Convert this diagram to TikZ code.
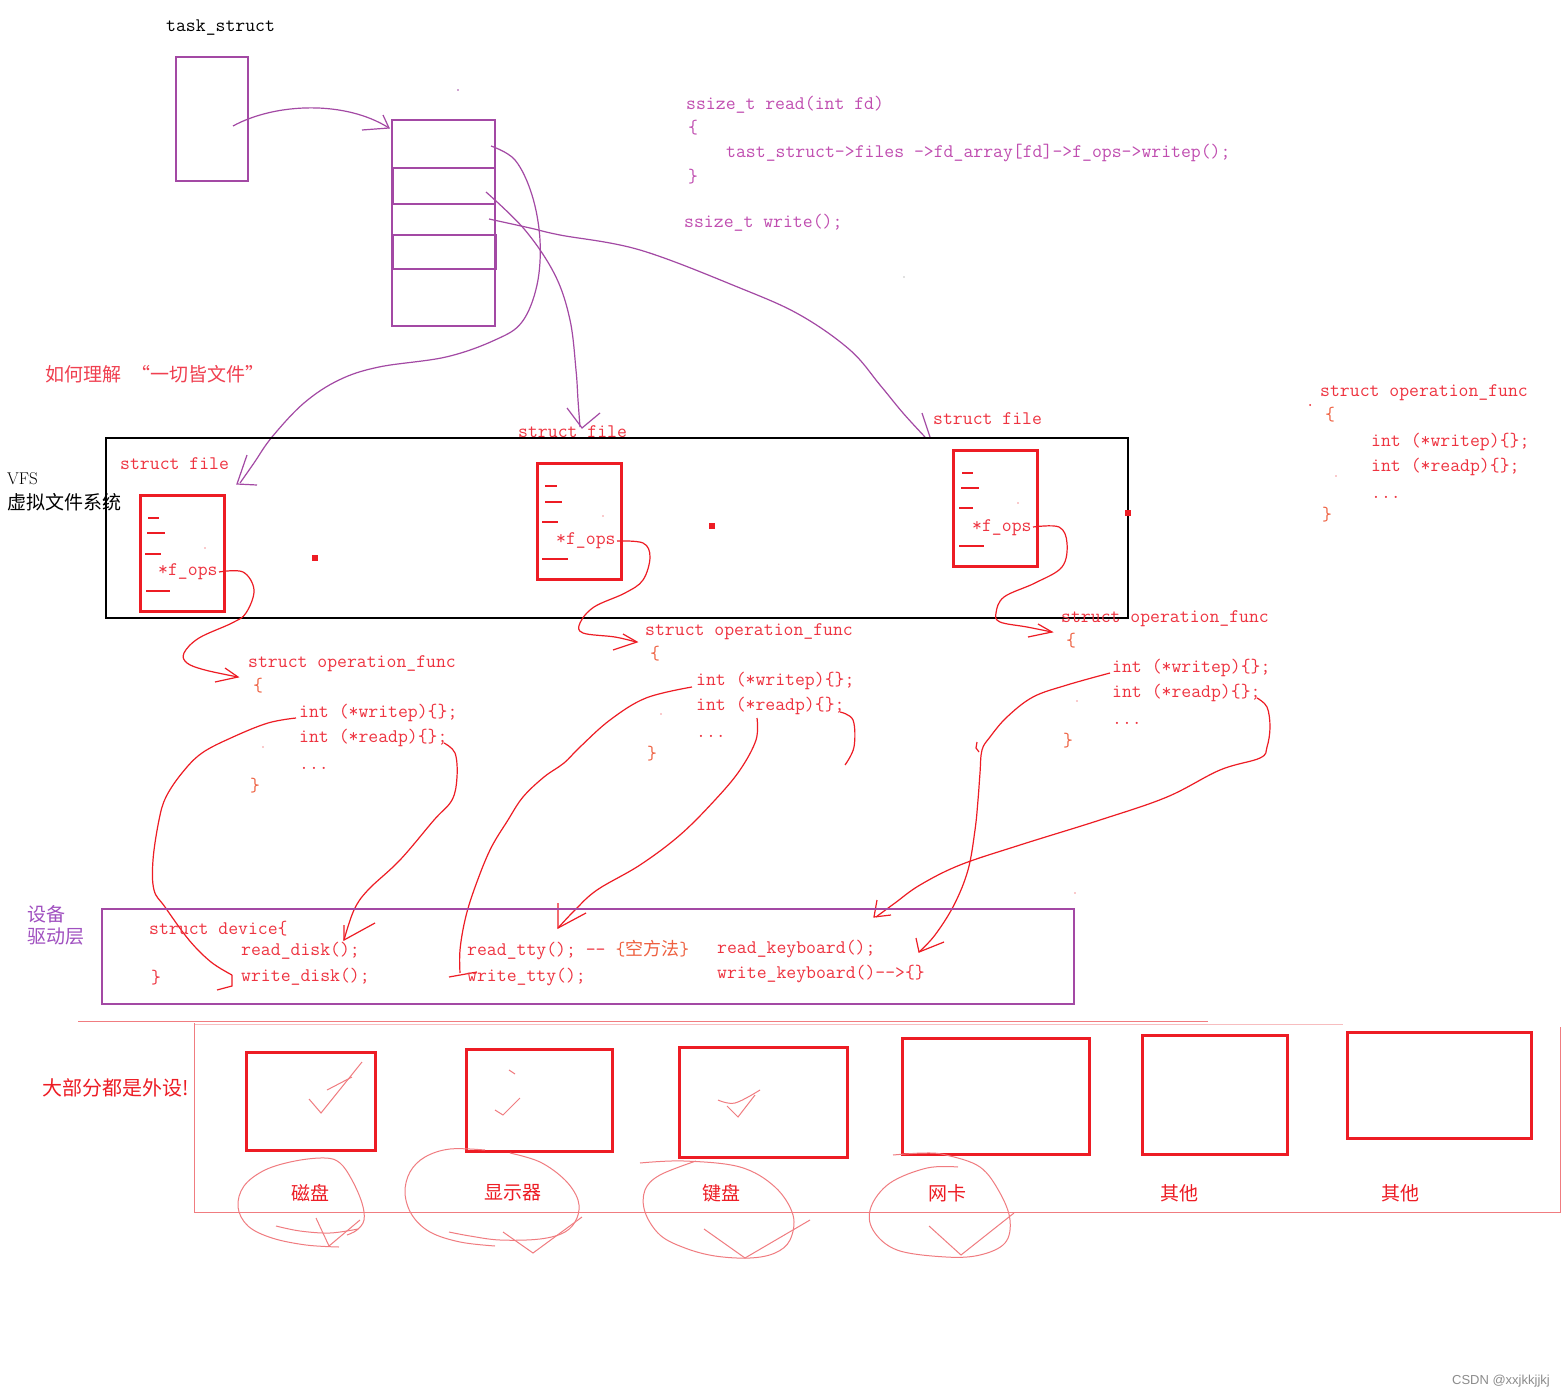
\documentclass[tikz,border=0pt]{standalone}
\usepackage{fontspec}
\newfontfamily\cjk{Noto Sans CJK SC}
\newfontfamily\wmfont{Liberation Sans}
\newcommand\codefont{\ttfamily\fontsize{19.2}{22}\selectfont}
\definecolor{pur}{HTML}{A349A4}
\definecolor{rd}{HTML}{ED1C24}
\definecolor{codered}{HTML}{EE3340}
\definecolor{codepur}{HTML}{C04DB0}
\definecolor{brace}{HTML}{EE6040}
\definecolor{thinpink}{HTML}{F07C80}
\definecolor{devpur}{HTML}{A050C0}
\definecolor{titlered}{HTML}{F04050}
\tikzset{
  code/.style={font=\codefont, text=codered, inner sep=0pt, anchor=mid west, yshift=-4pt},
  cjktext/.style={font=\cjk\fontsize{19}{22}\selectfont, inner sep=0pt, anchor=mid west, yshift=-4pt},
  devname/.style={font=\cjk\fontsize{19}{22}\selectfont, text=rd, inner sep=0pt},
  thinp/.style={draw=pur, line width=1.2pt},
  redline/.style={draw=rd, line width=1.2pt},
  redbox/.style={draw=rd, line width=3pt},
  pinkline/.style={draw=thinpink, line width=1pt},
  sk/.style={smooth, tension=0.6},
}
\newcommand\opfunc[3]{%
  \begin{scope}[shift={(#1,#2)}]
    \node[code] (#3s) at (0,0) {struct operation\_func};
    \node[code,text=brace] (#3o) at (5,24) {\{};
    \node[code] (#3w) at (51,50) {int (*writep)\{\};};
    \node[code] (#3r) at (51,75) {int (*readp)\{\};};
    \node[code] (#3d) at (51,102) {...};
    \node[code,text=brace] (#3c) at (2,124) {\}};
  \end{scope}}
\begin{document}
\begin{tikzpicture}[x=1pt,y=-1pt]
\fill[white] (0,0) rectangle (1564,1399);
\useasboundingbox (0,0) rectangle (1564,1399);

% ---------- task_struct and files array ----------
\node[code,text=black] (ts) at (166,25) {task\_struct};
\draw[thinp] (176,57) rectangle (248,181);
\draw[thinp] (392,120) rectangle (495,326);
\draw[thinp, line width=1.5pt] (393,168) rectangle (495,204);
\draw[thinp, line width=1.5pt] (393,235) rectangle (496,269);
\fill[pur] (458,90) circle (0.8);

\draw[thinp] (233,126) .. controls (275,103) and (345,100) .. (389,128);
\draw[thinp] (362,130) -- (389,128) -- (383,115);

\draw[thinp] plot[sk] coordinates {(491,146) (515,160) (532,195) (540,240) (537,285) (522,322) (495,340) (446,357) (379,367) (339,380) (304,403) (272,437) (254,463) (240,483)};
\draw[thinp] (247,455) -- (237,484) -- (257,485);

\draw[thinp] plot[sk] coordinates {(486,192) (525,230) (555,275) (570,320) (576,370) (578,400) (580,427)};
\draw[thinp] (567,408) -- (582,428) -- (600,413);

\draw[thinp] plot[sk] coordinates {(489,219) (530,228) (560,235) (640,250) (740,288) (800,315) (850,350) (880,385) (903,413) (925,437)};
\draw[thinp] (922,413) -- (930,437);

% ---------- top code ----------
\node[code,text=codepur] (c1) at (686,103) {ssize\_t read(int fd)};
\node[code,text=codepur] (c2) at (688,127) {\{};
\node[code,text=codepur] (c3) at (726,151) {tast\_struct->files ->fd\_array[fd]->f\_ops->writep();};
\node[code,text=codepur] (c4) at (688,176) {\}};
\node[code,text=codepur] (c5) at (684,221) {ssize\_t write();};
\fill[black!50] (904,277) circle (0.7);

\node[cjktext,text=titlered] (title) at (45,375) {如何理解\hspace{10pt}“一切皆文件”};

% ---------- VFS ----------
\node[font=\fontsize{17}{20}\selectfont, inner sep=0pt, anchor=mid west, yshift=-4pt] (vfs) at (7,478) {VFS};
\node[cjktext,text=black] (vfsz) at (7,503) {虚拟文件系统};
\draw[black, line width=1.2pt] (106,438) rectangle (1128,618);

\node[code] (f1l) at (120,463) {struct file};
\draw[redbox] (140,495) rectangle (224,611);
\draw[redline] (148,518)--(159,518) (147,533)--(165,533) (145,554)--(161,554) (146,591)--(170,591);
\node[code] (f1o) at (158,569) {*f\_ops};
\fill[rd] (205,548) circle (0.7);

\node[code] (f2l) at (518,431) {struct file};
\draw[redbox] (537,463) rectangle (621,579);
\draw[redline] (545,486)--(557,486) (545,502)--(562,502) (542,522)--(558,522) (542,559)--(568,559);
\node[code] (f2o) at (556,538) {*f\_ops};
\fill[rd] (603,516) circle (0.7);

\node[code] (f3l) at (933,418) {struct file};
\draw[redbox] (953,450) rectangle (1037,566);
\draw[redline] (962,473)--(973,473) (961,488)--(979,488) (959,508)--(973,508) (959,546)--(984,546);
\node[code] (f3o) at (972,525) {*f\_ops};
\fill[rd] (1018,503) circle (0.7);

\fill[rd] (312,555) rectangle (318,561);
\fill[rd] (709,523) rectangle (715,529);
\fill[rd] (1125,510) rectangle (1131,516);

% f_ops arrows
\draw[redline] plot[sk] coordinates {(219,572) (243,572) (254,590) (246,613) (232,623) (199,638) (184,653) (187,663) (205,670) (238,677)};
\draw[redline] (225,668) -- (238,677) -- (215,682);
\draw[redline] plot[sk] coordinates {(617,541) (643,543) (650,557) (643,580) (625,593) (594,607) (580,623) (583,633) (615,637) (636,642)};
\draw[redline] (623,634) -- (637,642) -- (613,650);
\draw[redline] plot[sk] coordinates {(1033,527) (1059,527) (1067,543) (1062,567) (1035,583) (1004,597) (996,613) (1000,622) (1027,627) (1052,632)};
\draw[redline] (1038,624) -- (1052,632) -- (1028,637);

% ---------- operation_func blocks ----------
\opfunc{248}{661}{opa}
\opfunc{645}{629}{opb}
\opfunc{1061}{616}{opc}
\opfunc{1320}{390}{opd}
\fill[rd] (1310,405) circle (1);
\fill[rd] (1336,476) circle (0.6);
\fill[rd] (263,747) circle (0.7);
\fill[rd] (661,714) circle (0.7);
\fill[rd] (1077,701) circle (0.7);
\fill[rd] (1075,893) circle (0.6);

% op -> device arrows
\draw[redline] plot[sk] coordinates {(296,718) (268,723) (233,737) (202,753) (182,773) (166,797) (159,820) (153,860) (154,890) (165,907) (189,940) (211,962) (232,975)};
\draw[redline] (232,975) -- (232,986) -- (217,990);
\draw[redline] plot[sk] coordinates {(444,743) (455,753) (457,777) (452,800) (434,820) (400,860) (368,890) (354,910) (344,940)};
\draw[redline] (344,925) -- (344,940) -- (375,923);
\draw[redline] plot[sk] coordinates {(692,687) (646,698) (610,720) (580,747) (564,763) (544,777) (523,797) (508,820) (490,850) (474,890) (465,920) (460,950) (460,973)};
\draw[redline] (449,977) -- (477,972);
\draw[redline] plot[sk] coordinates {(757,718) (756,740) (740,770) (715,800) (680,835) (640,865) (597,890) (575,910) (558,928)};
\draw[redline] (558,903) -- (558,928) -- (586,913);
\draw[redline] plot[sk] coordinates {(840,712) (853,720) (854,747) (845,765)};
\draw[redline] plot[sk] coordinates {(1110,673) (1067,685) (1033,697) (1007,717) (990,737) (982,750) (980,773) (978,800) (975,830) (968,870) (954,905) (935,935) (919,952)};
\draw[redline] (916,938) -- (919,952) -- (944,942);
\draw[redline] (977,742) -- (976,748) -- (979,752);
\draw[redline] plot[sk] coordinates {(1257,698) (1267,707) (1270,727) (1267,747) (1260,758) (1220,770) (1167,797) (1100,820) (1020,845) (960,865) (920,885) (895,903) (876,917)};
\draw[redline] (877,900) -- (874,917) -- (891,915);

% ---------- device layer ----------
\node[cjktext,text=devpur] (dv1) at (27,915) {设备};
\node[cjktext,text=devpur] (dv2) at (27,937) {驱动层};
\draw[pur, line width=1.2pt] (102,909) rectangle (1074,1004);
\node[code] (d1) at (149,928) {struct device\{};
\node[code] (d2) at (241,949) {read\_disk();};
\node[code] (d3) at (151,977) {\}};
\node[code] (d4) at (241,975) {write\_disk();};
\node[code] (d5) at (467,949) {read\_tty(); -{}- {\color{brace}\{{\cjk\fontsize{18}{20}\selectfont 空方法}\}}};
\node[code] (d6) at (467,975) {write\_tty();};
\node[code] (d7) at (717,947) {read\_keyboard();};
\node[code] (d8) at (717,972) {write\_keyboard()-{}->\{\}};

% ---------- peripherals ----------
\draw[pinkline] (78,1021) -- (1208,1021);
\draw[pinkline, draw opacity=0.5] (194,1024) -- (1343,1024);
\draw[pinkline] (1560,1027) -- (1560,1212) -- (194,1212) -- (194,1023);

\node[font=\cjk\fontsize{20}{22}\selectfont, text=rd, inner sep=0pt, anchor=mid west, yshift=-4pt] (most) at (42,1089) {大部分都是外设!};

\draw[redbox] (246,1052) rectangle (375,1150);
\draw[redbox] (466,1049) rectangle (612,1151);
\draw[redbox] (679,1047) rectangle (847,1157);
\draw[redbox] (902,1038) rectangle (1089,1154);
\draw[redbox] (1142,1035) rectangle (1287,1154);
\draw[redbox] (1347,1032) rectangle (1531,1138);

\draw[pinkline] (309,1099) -- (321,1113) -- (362,1062);
\draw[pinkline] (327,1090) -- (352,1077);
\draw[pinkline] (495,1110) -- (503,1115) -- (520,1098);
\draw[pinkline] (509,1070) -- (515,1074);
\draw[pinkline] plot[sk] coordinates {(718,1100) (735,1103) (760,1090)};
\draw[pinkline] (727,1106) -- (738,1117) -- (755,1095);

\node[devname] (p1) at (310,1193) {磁盘};
\node[devname] (p2) at (513,1193) {显示器};
\node[devname] (p3) at (721,1193) {键盘};
\node[devname] (p4) at (947,1193) {网卡};
\node[devname] (p5) at (1179,1193) {其他};
\node[devname] (p6) at (1400,1193) {其他};

\draw[pinkline] plot[sk] coordinates {(339,1247) (306,1245) (272,1238) (248,1226) (238,1207) (244,1186) (265,1170) (295,1161) (325,1158) (340,1163) (352,1180) (362,1203) (364,1220) (357,1230) (347,1235)};
\draw[pinkline] plot[sk] coordinates {(276,1226) (300,1231) (330,1233) (358,1229)};
\draw[pinkline] (316,1218) -- (329,1246) -- (360,1220);

\draw[pinkline] plot[sk] coordinates {(495,1246) (460,1242) (430,1232) (412,1215) (405,1193) (410,1172) (425,1157) (450,1149) (485,1150)};
\draw[pinkline] plot[sk] coordinates {(510,1153) (540,1162) (565,1180) (578,1200) (577,1218) (565,1232) (540,1239) (500,1240) (470,1236) (449,1232)};
\draw[pinkline] (503,1232) -- (533,1253) -- (582,1217);

\draw[pinkline] plot[sk] coordinates {(640,1163) (684,1161) (740,1167) (775,1187) (793,1215) (790,1240) (775,1253) (750,1258) (715,1256) (685,1248) (660,1235) (645,1212) (645,1190) (660,1175) (696,1161)};
\draw[pinkline] (704,1229) -- (745,1258) -- (810,1220);

\draw[pinkline] plot[sk] coordinates {(958,1167) (927,1168) (890,1183) (871,1207) (873,1230) (897,1250) (946,1257) (980,1255) (1005,1243) (1010,1220) (1000,1193) (980,1167) (946,1155) (924,1153) (893,1155)};
\draw[pinkline] (929,1226) -- (961,1255) -- (1014,1213);

\node[font=\wmfont\fontsize{13}{15}\selectfont, text=black!45, inner sep=0pt, anchor=mid east] (wm) at (1550,1382) {CSDN @xxjkkjjkj};
\end{tikzpicture}
\end{document}
